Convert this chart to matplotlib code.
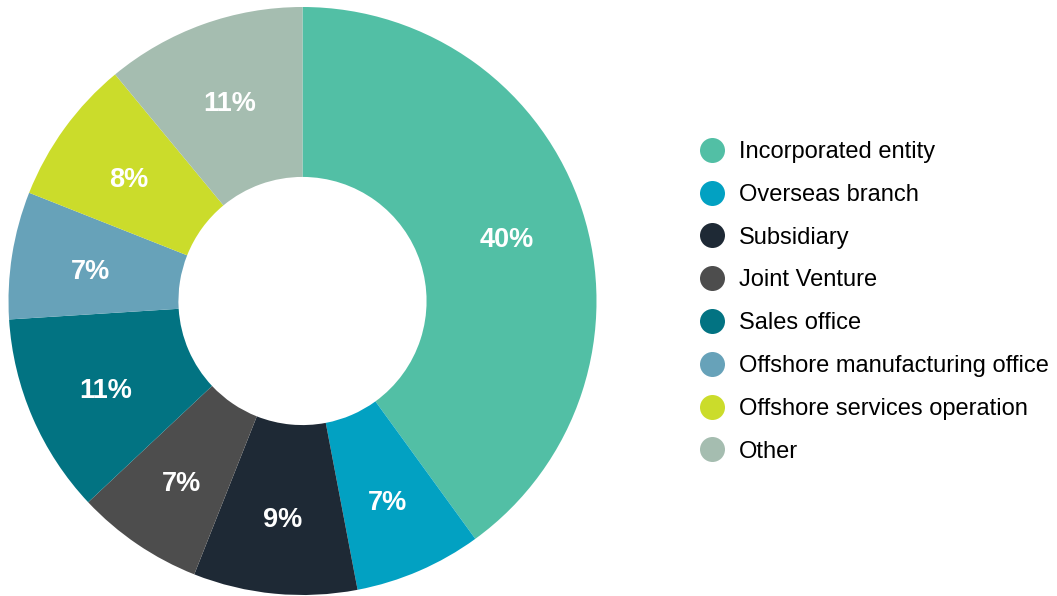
import matplotlib.pyplot as plt
from matplotlib.lines import Line2D
from matplotlib.transforms import offset_copy

plt.rcParams['font.family'] = ['Liberation Sans', 'DejaVu Sans']

# data
categories = ['Incorporated entity', 'Overseas branch', 'Subsidiary', 'Joint Venture',
              'Sales office', 'Offshore manufacturing office', 'Offshore services operation', 'Other']
shares = [40, 7, 9, 7, 11, 7, 8, 11]
colors = ['#52BFA5', '#02A1C2', '#1E2935', '#4D4D4D', '#027382', '#67A2B9', '#CBDC2B', '#A5BDB0']

fig = plt.figure(figsize=(10.57, 5.96), dpi=100)
ax = fig.add_axes([8.5 / 1057, 1 / 596, 588 / 1057, 588 / 596])

wedges, texts, autotexts = ax.pie(shares, colors=colors, startangle=90, counterclock=False,
                                  radius=1, autopct=lambda p: f'{p:.0f}%', pctdistance=0.73,
                                  wedgeprops=dict(width=0.578, linewidth=0),
                                  textprops=dict(color='white', fontsize=19.5, fontweight='bold'))
# nudge the percent labels down a little (digits have no descenders)
for t in autotexts:
    t.set_transform(offset_copy(t.get_transform(), fig=fig, y=-5, units='dots'))
ax.set_xlim(-1, 1)
ax.set_ylim(-1, 1)
ax.set_aspect('equal')
ax.axis('off')

# legend with round markers
handles = [Line2D([], [], marker='o', linestyle='', markersize=18, markerfacecolor=c,
                  markeredgewidth=0) for c in colors]
fig.legend(handles, categories, loc='center left', bbox_to_anchor=(698 / 1057, 0.4935),
           frameon=False, fontsize=17, labelspacing=0.88, handletextpad=0.55,
           handlelength=1.2, borderpad=0, borderaxespad=0)

fig.savefig('out.png', dpi=100)
